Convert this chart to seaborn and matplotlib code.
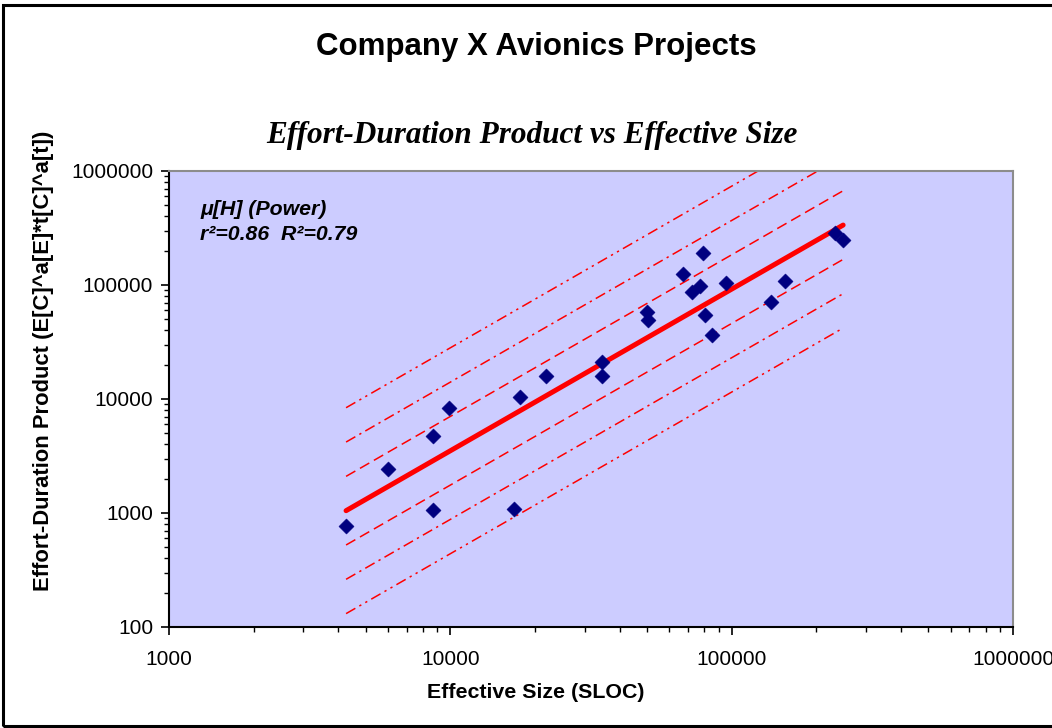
import numpy as np
import pandas as pd
import matplotlib
matplotlib.use("Agg")
import matplotlib.pyplot as plt
import seaborn as sns
from matplotlib.patches import Rectangle
from matplotlib.ticker import FixedLocator, FuncFormatter, LogLocator, NullFormatter

# Project data: effective size (SLOC) and effort-duration product
size_sloc = [4260, 6000, 8680, 8680, 9890, 16840, 17690, 21900, 34600, 34600,
             50000, 50300, 67200, 72300, 77200, 79100, 80400, 85200, 95500,
             138000, 154800, 233000, 249000]
edp = [769, 2430, 4740, 1060, 8340, 1085, 10400, 15900, 21100, 15900,
       58000, 49300, 124800, 86800, 98000, 190800, 54600, 36400, 104200,
       70900, 108400, 285800, 248000]

# Power-law fit  y = coef * x^exp  and multiplicative bands around it
fit_coef = 0.00748
fit_exp = 1.418
band_factors = [2, 4, 8]

x_ticks = [1000, 10000, 100000, 1000000]
y_ticks = [100, 1000, 10000, 100000, 1000000]

title = "Company X Avionics Projects"
subtitle = "Effort-Duration Product vs Effective Size"
x_label = "Effective Size (SLOC)"
y_label = "Effort-Duration Product (E[C]^a[E]*t[C]^a[t])"
fit_label = "\u03bc[H] (Power)\nr\u00b2=0.86  R\u00b2=0.79"

sns.set_style("ticks")
plt.rcParams["font.family"] = ["Liberation Sans", "DejaVu Sans"]
plt.rcParams["text.color"] = "black"
plt.rcParams["axes.labelcolor"] = "black"

W, H = 1052, 728
fig = plt.figure(figsize=(W / 100, H / 100), dpi=100)
fig.patch.set_facecolor("white")

left, right, top, bottom = 169, 1013, 171, 627
ax = fig.add_axes([left / W, 1 - bottom / H, (right - left) / W, (bottom - top) / H])
ax.set_facecolor("#CCCCFF")

df = pd.DataFrame({"size": size_sloc, "edp": edp})

# fitted line and bands over the observed size range
x_ends = np.array([min(size_sloc), max(size_sloc)], dtype=float)
y_fit = fit_coef * x_ends ** fit_exp

band_dashes = {
    2: (0, (7, 3.5)),
    4: (0, (7, 3, 1.5, 3)),
    8: (0, (7, 3, 1.5, 3, 1.5, 3)),
}
for f in band_factors:
    for mult in (f, 1.0 / f):
        sns.lineplot(x=x_ends, y=y_fit * mult, ax=ax, color="red", lw=1.1,
                     linestyle=band_dashes[f], zorder=2)

sns.lineplot(x=x_ends, y=y_fit, ax=ax, color="red", lw=3.6,
             solid_capstyle="round", zorder=3)

sns.scatterplot(data=df, x="size", y="edp", ax=ax, marker="D", s=60,
                color="#000080", edgecolor="#000080", linewidth=0.3, zorder=4)

ax.set_xscale("log")
ax.set_yscale("log")
ax.set_xlim(1000, 1000000)
ax.set_ylim(100, 1000000)

fmt = FuncFormatter(lambda v, p: f"{v:.0f}")
ax.xaxis.set_major_locator(FixedLocator(x_ticks))
ax.yaxis.set_major_locator(FixedLocator(y_ticks))
ax.xaxis.set_major_formatter(fmt)
ax.yaxis.set_major_formatter(fmt)
ax.xaxis.set_minor_locator(LogLocator(base=10, subs=np.arange(2, 10)))
ax.yaxis.set_minor_locator(LogLocator(base=10, subs=np.arange(2, 10)))
ax.xaxis.set_minor_formatter(NullFormatter())
ax.yaxis.set_minor_formatter(NullFormatter())

ax.tick_params(axis="both", which="major", direction="out", length=5.5,
               width=1.2, color="black", labelsize=15, labelcolor="black")
ax.tick_params(axis="both", which="minor", direction="out", length=3.5,
               width=1.0, color="black")
ax.tick_params(axis="x", which="major", pad=11)
ax.tick_params(axis="y", which="major", pad=6)

for side in ("left", "bottom"):
    ax.spines[side].set_color("black")
    ax.spines[side].set_linewidth(1.5)
for side in ("top", "right"):
    ax.spines[side].set_color("#8C8C8C")
    ax.spines[side].set_linewidth(1.5)

ax.set_xlabel("")
ax.set_ylabel("")
ax.grid(False)

ax.text(0.037, 0.937, fit_label, transform=ax.transAxes, ha="left", va="top",
        fontsize=15.3, fontweight="bold", fontstyle="italic", linespacing=1.4)

fig.text(536 / W, 1 - 47 / H, title, ha="center", va="center",
         fontsize=22.5, fontweight="bold")
fig.text(532 / W, 1 - 135 / H, subtitle, ha="center", va="center",
         fontsize=22.5, fontweight="bold", fontstyle="italic",
         family=["Liberation Serif", "DejaVu Serif"])
fig.text(536 / W, 1 - 692 / H, x_label, ha="center", va="center",
         fontsize=15.4, fontweight="bold")
fig.text(44 / W, 1 - 361 / H, y_label, ha="center", va="center",
         rotation=90, fontsize=15.8, fontweight="bold")

# outer chart frame
fig.add_artist(Rectangle((2.5 / W, 2.5 / H), 1.2, 721 / H,
                         transform=fig.transFigure, fill=False,
                         edgecolor="black", lw=2.2, clip_on=False))

fig.savefig("out.png", dpi=100)
